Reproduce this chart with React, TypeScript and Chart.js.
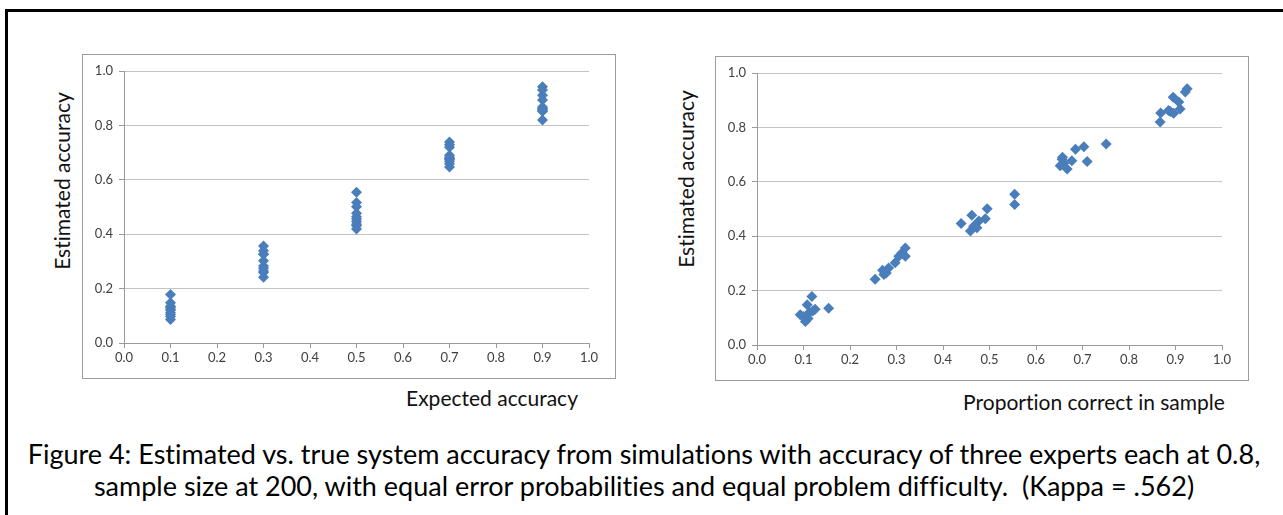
import { useEffect, useRef } from 'react';
import { Chart, registerables } from 'chart.js';

Chart.register(...registerables);

// Expected accuracy levels used in the simulations
const expectedLevels = [0.1, 0.3, 0.5, 0.7, 0.9];

// Estimated accuracy, ten runs per level
const estimatedAt01 = [0.178, 0.148, 0.135, 0.131, 0.125, 0.12, 0.111, 0.105, 0.097, 0.086];
const estimatedAt03 = [0.242, 0.259, 0.265, 0.275, 0.283, 0.302, 0.326, 0.326, 0.339, 0.357];
const estimatedAt05 = [0.447, 0.477, 0.419, 0.437, 0.456, 0.464, 0.501, 0.431, 0.554, 0.517];
const estimatedAt07 = [0.683, 0.659, 0.647, 0.677, 0.72, 0.729, 0.675, 0.739, 0.668, 0.69];
const estimatedAt09 = [0.82, 0.853, 0.862, 0.852, 0.911, 0.893, 0.868, 0.93, 0.942, 0.858];

// Proportion correct in the drawn sample, same runs
const sampleAt01 = [0.118, 0.108, 0.154, 0.125, 0.12, 0.113, 0.093, 0.1, 0.11, 0.104];
const sampleAt03 = [0.254, 0.273, 0.278, 0.27, 0.283, 0.297, 0.305, 0.319, 0.312, 0.319];
const sampleAt05 = [0.439, 0.462, 0.459, 0.466, 0.477, 0.491, 0.495, 0.473, 0.554, 0.554];
const sampleAt07 = [0.656, 0.652, 0.667, 0.677, 0.685, 0.703, 0.71, 0.751, 0.66, 0.657];
const sampleAt09 = [0.867, 0.868, 0.885, 0.896, 0.895, 0.907, 0.91, 0.921, 0.925, 0.889];

const xTickLabels = ['0.0', '0.1', '0.2', '0.3', '0.4', '0.5', '0.6', '0.7', '0.8', '0.9', '1.0'];
const yTickLabels = ['0.0', '0.2', '0.4', '0.6', '0.8', '1.0'];

const estimatedGroups = [estimatedAt01, estimatedAt03, estimatedAt05, estimatedAt07, estimatedAt09];
const sampleGroups = [sampleAt01, sampleAt03, sampleAt05, sampleAt07, sampleAt09];

const MARKER = '#4a7ebb';
const AXIS = '#9a9a9a';
const GRID = '#c4c4c4';
const TICK_TEXT = '#404040';

type Pt = { x: number; y: number };

function expectedPoints(): Pt[] {
  const pts: Pt[] = [];
  expectedLevels.forEach((lvl, g) => {
    estimatedGroups[g].forEach((y) => pts.push({ x: lvl, y }));
  });
  return pts;
}

function samplePoints(): Pt[] {
  const pts: Pt[] = [];
  sampleGroups.forEach((xs, g) => {
    xs.forEach((x, i) => pts.push({ x, y: estimatedGroups[g][i] }));
  });
  return pts;
}

function buildConfig(points: Pt[]): any {
  return {
    type: 'scatter',
    data: {
      datasets: [
        {
          data: points,
          pointStyle: 'rectRot',
          pointRadius: 5.5,
          pointHoverRadius: 5.5,
          backgroundColor: MARKER,
          borderColor: MARKER,
          borderWidth: 0,
        },
      ],
    },
    options: {
      responsive: false,
      animation: false,
      devicePixelRatio: 1,
      layout: { padding: { left: 0, right: 26, top: 16, bottom: 0 } },
      plugins: { legend: { display: false }, tooltip: { enabled: false } },
      scales: {
        x: {
          type: 'linear',
          min: 0,
          max: 1,
          afterFit: (s: any) => {
            s.height = 35;
          },
          ticks: {
            stepSize: 0.1,
            autoSkip: false,
            maxRotation: 0,
            padding: 2,
            color: TICK_TEXT,
            font: { family: 'Lato', size: 13 },
            callback: (_v: any, i: number) => xTickLabels[i],
          },
          grid: { drawOnChartArea: false, drawTicks: true, tickLength: 5, tickColor: AXIS, color: AXIS },
          border: { color: AXIS, width: 1 },
        },
        y: {
          type: 'linear',
          min: 0,
          max: 1,
          afterFit: (s: any) => {
            s.width = 41;
          },
          ticks: {
            stepSize: 0.2,
            padding: 6,
            color: TICK_TEXT,
            font: { family: 'Lato', size: 13 },
            callback: (_v: any, i: number) => yTickLabels[i],
          },
          grid: { drawOnChartArea: true, drawTicks: true, tickLength: 5, tickColor: AXIS, color: GRID },
          border: { color: AXIS, width: 1 },
        },
      },
    },
  };
}

function ScatterPanel({ points, left, top }: { points: Pt[]; left: number; top: number }) {
  const ref = useRef<HTMLCanvasElement | null>(null);
  useEffect(() => {
    if (!ref.current) return;
    const chart = new Chart(ref.current, buildConfig(points));
    return () => chart.destroy();
  }, [points]);
  return (
    <div
      style={{
        position: 'absolute',
        left,
        top,
        width: 534,
        height: 325,
        boxSizing: 'border-box',
        border: '1px solid #9c9c9c',
        background: '#fff',
      }}
    >
      <canvas ref={ref} width={532} height={323} style={{ display: 'block', width: 532, height: 323 }} />
    </div>
  );
}

const titleFont: React.CSSProperties = {
  position: 'absolute',
  fontFamily: 'Lato',
  fontSize: 21,
  color: '#111',
  whiteSpace: 'nowrap',
  lineHeight: '24px',
  fontVariantLigatures: 'none',
};

const leftPoints = expectedPoints();
const rightPoints = samplePoints();

export default function App() {
  return (
    <div
      style={{
        position: 'fixed',
        left: 0,
        top: 0,
        width: 1283,
        height: 515,
        background: '#fff',
        overflow: 'hidden',
      }}
    >
      <div
        style={{
          position: 'absolute',
          left: 5,
          top: 9,
          right: -10,
          bottom: -10,
          borderLeft: '3px solid #000',
          borderTop: '3px solid #000',
        }}
      />
      <ScatterPanel points={leftPoints} left={82} top={54} />
      <ScatterPanel points={rightPoints} left={715} top={56} />

      <div style={{ ...titleFont, left: 62, top: 181, transform: 'translate(-50%, -50%) rotate(-90deg)' }}>
        Estimated accuracy
      </div>
      <div style={{ ...titleFont, left: 686, top: 179, transform: 'translate(-50%, -50%) rotate(-90deg)' }}>
        Estimated accuracy
      </div>
      <div style={{ ...titleFont, left: 492, top: 398, transform: 'translate(-50%, -50%)' }}>Expected accuracy</div>
      <div style={{ ...titleFont, left: 1094, top: 402, transform: 'translate(-50%, -50%)' }}>
        Proportion correct in sample
      </div>

      <div
        style={{
          position: 'absolute',
          left: 644,
          top: 438,
          transform: 'translateX(-50%)',
          fontFamily: 'Lato',
          fontSize: 27,
          lineHeight: '32px',
          color: '#000',
          textAlign: 'center',
          whiteSpace: 'pre',
          fontVariantLigatures: 'none',
        }}
      >
        <div>
          {'Figure 4: Estimated vs. true system accuracy from simulations with accuracy of three experts each at 0.8,'}
        </div>
        <div>{'sample size at 200, with equal error probabilities and equal problem difficulty.  (Kappa = .562)'}</div>
      </div>
    </div>
  );
}
